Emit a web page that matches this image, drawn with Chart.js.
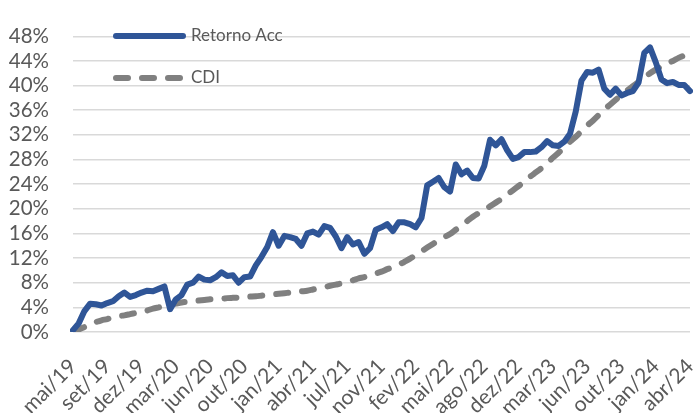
<!DOCTYPE html>
<html>
<head>
<meta charset="utf-8">
<script src="https://cdn.jsdelivr.net/npm/chart.js@4"></script>
<style>
  html, body { margin: 0; padding: 0; background: #fff; }
  #chart { display: block; }
</style>
</head>
<body>
<canvas id="chart" width="693" height="413"></canvas>
<script>
// axis labels, one every 6 points
const tickLabels = ['mai/19', 'set/19', 'dez/19', 'mar/20', 'jun/20', 'out/20', 'jan/21', 'abr/21',
    'jul/21', 'nov/21', 'fev/22', 'mai/22', 'ago/22', 'dez/22', 'mar/23', 'jun/23', 'out/23',
    'jan/24', 'abr/24'];
const pointsPerTick = 6;

// accumulated return of the fund, %
const retornoAcc = [
    0.3, 1.4, 3.4, 4.6, 4.5, 4.3, 4.7, 5.0, 5.8, 6.4,
    5.7, 6.0, 6.4, 6.7, 6.6, 7.0, 7.4, 3.7, 5.3, 6.0,
    7.7, 8.0, 9.0, 8.5, 8.4, 8.9, 9.7, 9.1, 9.2, 8.0,
    8.9, 9.0, 10.8, 12.2, 13.8, 16.2, 14.0, 15.6, 15.4, 15.1,
    14.0, 16.0, 16.3, 15.8, 17.2, 16.9, 15.5, 13.6, 15.4, 14.2,
    14.6, 12.7, 13.6, 16.6, 17.0, 17.5, 16.4, 17.8, 17.8, 17.5,
    17.0, 18.5, 23.8, 24.4, 25.0, 23.5, 22.8, 27.2, 25.6, 26.2,
    25.0, 24.9, 27.0, 31.2, 30.3, 31.3, 29.5, 28.1, 28.4, 29.2,
    29.2, 29.3, 30.0, 31.0, 30.3, 30.2, 30.9, 32.2, 35.8, 40.8,
    42.2, 42.1, 42.6, 39.5, 38.5, 39.5, 38.4, 38.8, 39.1, 40.5,
    45.3, 46.2, 43.8, 41.0, 40.4, 40.6, 40.1, 40.1, 39.1
];

// CDI accumulated, %
const cdi = [
    0.0, 0.4, 0.8, 1.2, 1.6, 1.9, 2.1, 2.4, 2.6, 2.7,
    2.9, 3.1, 3.3, 3.5, 3.8, 4.0, 4.2, 4.4, 4.6, 4.8,
    4.9, 5.0, 5.1, 5.2, 5.3, 5.35, 5.4, 5.5, 5.55, 5.6,
    5.7, 5.75, 5.8, 5.9, 6.0, 6.1, 6.2, 6.3, 6.4, 6.5,
    6.6, 6.7, 6.9, 7.1, 7.3, 7.5, 7.7, 7.9, 8.2, 8.4,
    8.7, 8.9, 9.2, 9.5, 9.8, 10.2, 10.5, 10.9, 11.4, 11.9,
    12.5, 13.1, 13.7, 14.3, 14.9, 15.4, 15.9, 16.6, 17.3, 18.0,
    18.7, 19.3, 19.8, 20.4, 21.0, 21.6, 22.3, 23.0, 23.7, 24.4,
    25.2, 25.9, 26.6, 27.4, 28.3, 29.1, 30.0, 30.9, 31.7, 32.6,
    33.5, 34.3, 35.2, 36.1, 36.9, 37.7, 38.5, 39.2, 39.9, 40.6,
    41.3, 42.0, 42.6, 43.1, 43.6, 44.0, 44.5, 44.9, 45.5
];

const labels = retornoAcc.map((v, i) => i % pointsPerTick === 0 ? tickLabels[i / pointsPerTick] : '');

const textColor = '#595959';
const fontFamily = 'Lato, "Open Sans", sans-serif';

// legend drawn inside the plot, top left
const innerLegend = {
    id: 'innerLegend',
    afterDatasetsDraw(chart) {
        const ctx = chart.ctx;
        const rows = [{ y: 36, x: 113 }, { y: 78, x: 113 }];
        chart.data.datasets.forEach((ds, i) => {
            const r = rows[i];
            ctx.save();
            ctx.strokeStyle = ds.borderColor;
            ctx.lineWidth = ds.borderWidth;
            ctx.lineCap = 'round';
            ctx.setLineDash(ds.borderDash || []);
            ctx.beginPath();
            ctx.moveTo(r.x + 3, r.y);
            ctx.lineTo(r.x + 70, r.y);
            ctx.stroke();
            ctx.setLineDash([]);
            ctx.fillStyle = textColor;
            ctx.font = '17px ' + fontFamily;
            ctx.textBaseline = 'middle';
            ctx.fillText(ds.label, r.x + 78, r.y);
            ctx.restore();
        });
    }
};

const ctx = document.getElementById('chart').getContext('2d');
new Chart(ctx, {
    type: 'line',
    data: {
        labels: labels,
        datasets: [{
            label: 'Retorno Acc',
            data: retornoAcc,
            borderColor: '#2F5597',
            borderWidth: 6,
            borderJoinStyle: 'round',
            borderCapStyle: 'round',
            pointRadius: 0,
            tension: 0
        }, {
            label: 'CDI',
            data: cdi,
            borderColor: '#808080',
            borderWidth: 6,
            borderDash: [12, 14],
            borderCapStyle: 'round',
            pointRadius: 0,
            tension: 0.3
        }]
    },
    options: {
        responsive: false,
        animation: false,
        layout: { padding: { left: 0, right: 3, top: 18, bottom: 0 } },
        plugins: {
            legend: { display: false },
            tooltip: { enabled: false }
        },
        scales: {
            x: {
                offset: false,
                grid: { display: false, drawTicks: false },
                border: { display: false },
                ticks: {
                    autoSkip: false,
                    minRotation: 45,
                    maxRotation: 45,
                    padding: 22,
                    color: textColor,
                    font: { family: fontFamily, size: 21 }
                },
                afterFit(scale) {
                    scale.height = 81;
                    scale.paddingLeft = 0;
                    scale.paddingRight = 0;
                }
            },
            y: {
                min: 0,
                max: 48,
                grid: { color: '#D9D9D9', lineWidth: 1.5, drawTicks: false },
                border: { display: false },
                ticks: {
                    stepSize: 4,
                    autoSkip: false,
                    padding: 24,
                    color: textColor,
                    font: { family: fontFamily, size: 20.5 },
                    callback: v => v + '%'
                },
                afterFit(scale) { scale.width = 73; }
            }
        }
    },
    plugins: [innerLegend]
});
</script>
</body>
</html>
